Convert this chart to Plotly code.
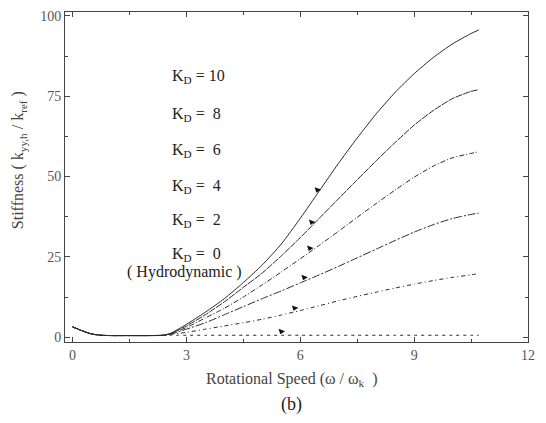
import numpy as np
import plotly.graph_objects as go

# ---- data ----
speed = [0.0, 0.25, 0.5, 0.75, 1.0, 1.5, 2.0, 2.4, 2.6, 2.8, 3.0, 3.5, 4.0, 4.5, 5.0, 5.5,
         6.0, 6.5, 7.0, 7.5, 8.0, 8.5, 9.0, 9.5, 10.0, 10.5, 10.7]
low = [3.2, 2.0, 1.0, 0.6, 0.5, 0.5, 0.5, 0.6]
kd10 = low + [1.3, 2.6, 4.0, 7.8, 12.0, 17.0, 22.5, 29.0, 37.0, 45.5, 54.0, 62.0, 69.5,
              76.2, 82.0, 87.0, 91.2, 94.5, 95.6]
kd8 = low + [1.2, 2.3, 3.5, 7.0, 11.0, 15.5, 20.0, 25.3, 31.0, 37.0, 43.0, 49.0, 54.9,
             60.6, 66.0, 70.5, 74.2, 76.5, 77.0]
kd6 = low + [1.1, 2.0, 3.0, 6.0, 9.0, 12.5, 16.3, 20.3, 24.4, 28.6, 32.9, 37.3, 41.6,
             45.8, 49.8, 53.2, 55.8, 57.2, 57.7]
kd4 = low + [1.0, 1.7, 2.5, 4.5, 7.0, 9.5, 12.0, 14.4, 16.9, 19.4, 22.0, 24.7, 27.4,
             30.1, 32.7, 35.0, 36.9, 38.2, 38.6]
kd2 = low + [0.9, 1.2, 1.5, 2.5, 3.5, 4.5, 5.6, 6.9, 8.3, 9.8, 11.3, 12.7, 14.0,
             15.3, 16.5, 17.6, 18.6, 19.4, 19.8]
kd0 = low + [0.6, 0.6, 0.6, 0.6, 0.6, 0.6, 0.6, 0.6, 0.6, 0.6, 0.6, 0.6, 0.6,
             0.6, 0.6, 0.6, 0.6, 0.6, 0.6]

series = [kd10, kd8, kd6, kd4, kd2, kd0]
labels = ["K<sub>D</sub> = 10", "K<sub>D</sub> =  8", "K<sub>D</sub> =  6",
          "K<sub>D</sub> =  4", "K<sub>D</sub> =  2", "K<sub>D</sub> =  0"]
dashes = ["solid", "7px,1px", "5px,2px,1px,2px", "8px,2px,2px,2px", "4px,3px,1px,3px", "3px,4px"]
pointer_x = [6.45, 6.3, 6.25, 6.1, 5.85, 5.5]

x_ticks = [0, 3, 6, 9, 12]
y_ticks = [0, 25, 50, 75, 100]

FONT = "Liberation Serif"

fig = go.Figure()
for ys, lab, d in zip(series, labels, dashes):
    fig.add_trace(go.Scatter(x=speed, y=ys, mode="lines", name=lab,
                             line=dict(color="#2a2a2a", width=1, dash=d, shape="spline",
                                       smoothing=0.6),
                             showlegend=False))

# small pointers on each curve
px = pointer_x
py = [float(np.interp(xx, speed, ys)) + 1.2 for xx, ys in zip(px, series)]
fig.add_trace(go.Scatter(x=px, y=py, mode="markers", showlegend=False,
                         marker=dict(symbol="triangle-down", size=6, color="#111111",
                                     angle=20)))

# curve labels
label_y = [0.805, 0.69, 0.58, 0.472, 0.369, 0.266]
for lab, yy in zip(labels, label_y):
    fig.add_annotation(text=lab, xref="paper", yref="paper", x=0.226, y=yy,
                       xanchor="left", yanchor="middle", showarrow=False,
                       font=dict(family=FONT, size=16, color="#222222"))
fig.add_annotation(text="( Hydrodynamic )", xref="paper", yref="paper", x=0.13, y=0.212,
                   xanchor="left", yanchor="middle", showarrow=False,
                   font=dict(family=FONT, size=16, color="#222222"))

# axis titles
fig.add_annotation(text="Rotational Speed (ω / ω<sub>k</sub>  )", xref="paper", yref="paper",
                   x=0.49, y=-0.115, xanchor="center", yanchor="middle", showarrow=False,
                   font=dict(family=FONT, size=16, color="#444444"))
fig.add_annotation(text="(b)", xref="paper", yref="paper",
                   x=0.49, y=-0.19, xanchor="center", yanchor="middle", showarrow=False,
                   font=dict(family=FONT, size=18, color="#222222"))
fig.add_annotation(text="Stiffness ( k<sub>yy,h</sub> / k<sub>ref</sub> )", xref="paper", yref="paper",
                   x=-0.1, y=0.55, xanchor="center", yanchor="middle", showarrow=False,
                   textangle=-90,
                   font=dict(family=FONT, size=16, color="#444444"))

axis_common = dict(showgrid=False, zeroline=False, showline=True, linecolor="#444444",
                   linewidth=1, mirror="ticks", ticks="inside", ticklen=5,
                   tickcolor="#444444",
                   tickfont=dict(family=FONT, size=14, color="#555555"))
fig.update_xaxes(range=[-0.2, 12.0], tickvals=x_ticks, ticktext=[str(v) for v in x_ticks],
                 minor=dict(ticks="inside", ticklen=3, dtick=1.5, tickcolor="#444444"),
                 **axis_common)
fig.update_yaxes(range=[-1.5, 101.2], tickvals=y_ticks, ticktext=[str(v) for v in y_ticks],
                 minor=dict(ticks="inside", ticklen=3, dtick=12.5, tickcolor="#444444"),
                 **axis_common)

fig.update_layout(width=546, height=423, margin=dict(l=65, r=18, t=9, b=81),
                  plot_bgcolor="white", paper_bgcolor="white",
                  font=dict(family=FONT))
fig.write_html("out.html")
